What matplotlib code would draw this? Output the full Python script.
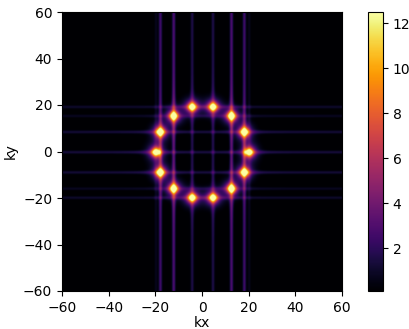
import numpy as np
import matplotlib
matplotlib.use("Agg")
import matplotlib.pyplot as plt

# Peak positions (kx, ky)
peak_kx = [-4.4, 4.5, 12.4, 17.9, 20.0, 17.9, 12.4, 4.5, -4.4, -12.3, -18.0, -19.9, -18.0, -12.3]
peak_ky = [19.2, 19.2, 15.3, 8.4, -0.3, -9.0, -16.0, -19.9, -19.9, -16.0, -9.0, -0.3, 8.4, 15.3]
peak_amp = [12.5] * 14
# streak strengths (vertical = along ky, horizontal = along kx)
streak_v = [2.0, 2.0, 3.6, 3.2, 1.8, 3.2, 3.6, 2.0, 2.0, 3.6, 3.2, 1.8, 3.2, 3.6]
streak_h = [1.3, 1.3, 1.0, 1.6, 1.7, 1.6, 1.0, 1.3, 1.3, 1.0, 1.6, 1.7, 1.6, 1.0]

k_range = (-60, 60)
v_min, v_max = 0.1, 12.5

n = 700
kx = np.linspace(k_range[0], k_range[1], n)
ky = np.linspace(k_range[0], k_range[1], n)
KX, KY = np.meshgrid(kx, ky)
img = np.zeros_like(KX)


def along(d):
    return 0.4 + 0.6 * np.exp(-np.abs(d) / 7.0)


def across(d, dalong):
    s = 0.5 + 0.5 * np.exp(-np.abs(dalong) / 4.0)
    return np.exp(-d ** 2 / (2 * s ** 2))


for x0, y0, a, sv, sh in zip(peak_kx, peak_ky, peak_amp, streak_v, streak_h):
    dx = KX - x0
    dy = KY - y0
    r2 = dx ** 2 + dy ** 2
    img += a * (0.72 * np.exp(-r2 / (2 * 1.4 ** 2)) + 0.28 * np.exp(-r2 / (2 * 2.8 ** 2)))
    img += sv * across(dx, dy) * along(dy)
    img += sh * across(dy, dx) * along(dx)

img = np.clip(img, v_min, v_max)

fig = plt.figure(figsize=(4.09, 3.29), dpi=100)
ax = fig.add_axes([62 / 409, 38 / 329, 280 / 409, 279 / 329])
im = ax.imshow(img, origin="lower", extent=[k_range[0], k_range[1], k_range[0], k_range[1]],
               cmap="inferno", vmin=v_min, vmax=v_max, aspect="auto", interpolation="bilinear")
ax.set_xlabel("kx", labelpad=1)
ax.set_ylabel("ky")
ax.set_xticks([-60, -40, -20, 0, 20, 40, 60])
ax.set_yticks([-60, -40, -20, 0, 20, 40, 60])
cax = fig.add_axes([368 / 409, 38 / 329, 15 / 409, 279 / 329])
cb = fig.colorbar(im, cax=cax)
cb.set_ticks([2, 4, 6, 8, 10, 12])
fig.savefig("out.png", dpi=100)
